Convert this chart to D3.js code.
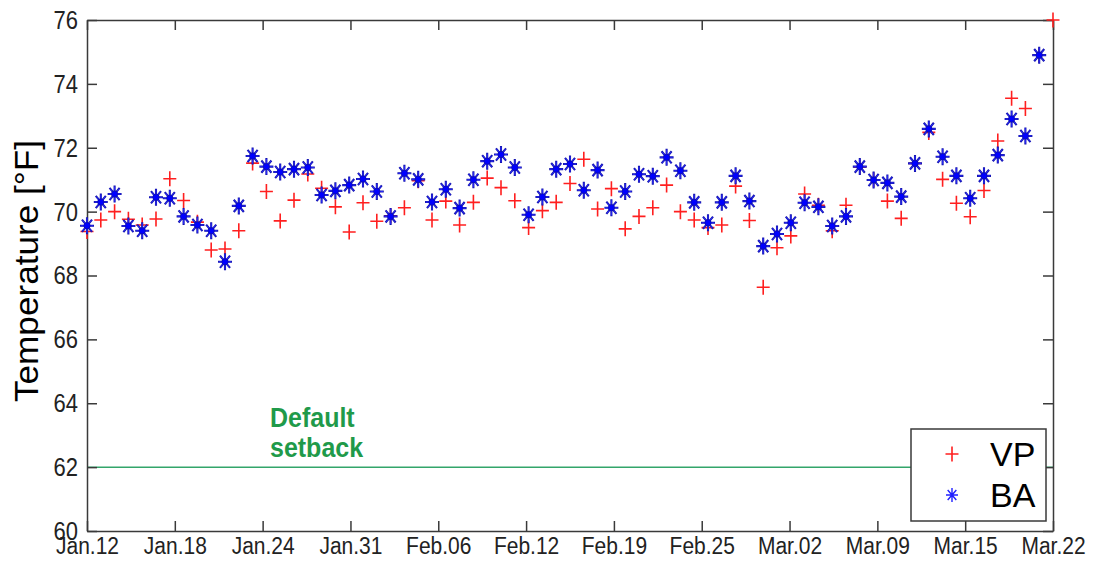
<!DOCTYPE html>
<html>
<head>
<meta charset="utf-8">
<script src="https://cdn.jsdelivr.net/npm/d3@7"></script>
<style>
  html, body { margin: 0; padding: 0; background: #fff; }
  svg { display: block; }
  text { font-family: "Liberation Sans", Arial, sans-serif; }
</style>
</head>
<body>
<svg id="chart" width="1097" height="561"></svg>
<script>
// ---------- data ----------
const startDate = "2012-01-12";   // day index 0
const nDays = 70;                 // Jan.12 .. Mar.22 (leap year)
const vpValues = [
  69.38, 69.74, 70.00, 69.76, 69.58, 69.77, 71.03, 70.35, 69.67, 68.80,
  68.83, 69.40, 71.52, 70.63, 69.71, 70.36, 71.18, 70.73, 70.15, 69.36,
  70.28, 69.70, 69.87, 70.12, 70.97, 69.74, 70.33, 69.58, 70.29, 71.05,
  70.75, 70.34, 69.50, 70.03, 70.29, 70.88, 71.64, 70.08, 70.72, 69.46,
  69.85, 70.12, 70.83, 70.00, 69.74, 69.50, 69.58, 70.80, 69.72, 67.63,
  68.87, 69.24, 70.55, 70.20, 69.40, 70.20, 71.40, 71.00, 70.33, 69.79,
  71.51, 72.48, 71.01, 70.26, 69.84, 70.66, 72.21, 73.55, 73.23, 74.90,
  76.00
];
const baValues = [
  69.56, 70.30, 70.55, 69.55, 69.40, 70.45, 70.42, 69.85, 69.58, 69.40,
  68.43, 70.18, 71.74, 71.41, 71.24, 71.33, 71.38, 70.52, 70.65, 70.83,
  71.02, 70.63, 69.85, 71.20, 71.01, 70.30, 70.70, 70.11, 71.00, 71.58,
  71.79, 71.38, 69.90, 70.46, 71.33, 71.49, 70.67, 71.30, 70.12, 70.63,
  71.17, 71.11, 71.70, 71.28, 70.29, 69.65, 70.29, 71.12, 70.33, 68.92,
  69.30, 69.65, 70.28, 70.15, 69.55, 69.85, 71.41, 70.99, 70.90, 70.47,
  71.51, 72.59, 71.72, 71.12, 70.42, 71.12, 71.77, 72.90, 72.37, 74.90,
  null
];
const seriesNames = ["VP", "BA"];
const xTickLabels = ["Jan.12","Jan.18","Jan.24","Jan.31","Feb.06","Feb.12",
                     "Feb.19","Feb.25","Mar.02","Mar.09","Mar.15","Mar.22"];
const yTicks = [60, 62, 64, 66, 68, 70, 72, 74, 76];
const setbackValue = 62;
const setbackLabel = ["Default", "setback"];
const yTitle = "Temperature [°F]";

// ---------- layout ----------
const svg = d3.select("#chart");
const L = 87, R = 1053, T = 20, B = 531;
const x = d3.scaleLinear().domain([0, nDays]).range([L, R]);
const y = d3.scaleLinear().domain([60, 76]).range([B, T]);
const axisColor = "#3a3a3a";
const tickPositions = xTickLabels.map((d, i) => i * nDays / (xTickLabels.length - 1));

// setback line
svg.append("line")
  .attr("x1", x(0)).attr("x2", x(nDays))
  .attr("y1", y(setbackValue)).attr("y2", y(setbackValue))
  .attr("stroke", "#33a56a").attr("stroke-width", 1.5);

svg.append("g").selectAll("text").data(setbackLabel).join("text")
  .attr("transform", (d, i) => `translate(270,${y(setbackValue) - 40 + i * 30}) scale(1,1.12)`)
  .attr("fill", "#1f9a4a").attr("font-weight", "bold").attr("font-size", 25)
  .text(d => d);

// axes (bottom + top, left + right)
const xb = d3.axisBottom(x).tickValues(tickPositions)
  .tickFormat((d, i) => xTickLabels[i]).tickSizeInner(-10).tickSizeOuter(0).tickPadding(6);
const xt = d3.axisTop(x).tickValues(tickPositions).tickFormat("").tickSizeInner(-10).tickSizeOuter(0);
const yl = d3.axisLeft(y).tickValues(yTicks).tickFormat(d3.format("d"))
  .tickSizeInner(-10).tickSizeOuter(0).tickPadding(9);
const yr = d3.axisRight(y).tickValues(yTicks).tickFormat("").tickSizeInner(-10).tickSizeOuter(0);

function styleAxis(fontSize, vs) {
  return function (g) {
    g.select(".domain").attr("stroke", axisColor).attr("stroke-width", 1.5);
    g.selectAll(".tick line").attr("stroke", axisColor).attr("stroke-width", 1.5);
    g.selectAll(".tick text").attr("fill", "#222").attr("font-size", fontSize)
      .attr("font-family", "Liberation Sans, Arial, sans-serif")
      .each(function () {
        const t = d3.select(this);
        const tx = +t.attr("x") || 0, ty = +t.attr("y") || 0;
        t.attr("x", 0).attr("y", 0)
          .attr("transform", `translate(${tx},${ty}) scale(1,${vs})`);
      });
  };
}
svg.append("g").attr("transform", `translate(0,${B})`).call(xb).call(styleAxis(21, 1.15));
svg.append("g").attr("transform", `translate(0,${T})`).call(xt).call(styleAxis(21, 1.15));
svg.append("g").attr("transform", `translate(${L},0)`).call(yl).call(styleAxis(22, 1.2));
svg.append("g").attr("transform", `translate(${R},0)`).call(yr).call(styleAxis(22, 1.2));

// y title
svg.append("text")
  .attr("transform", `translate(38,271) rotate(-90)`)
  .attr("text-anchor", "middle").attr("font-size", 33).attr("fill", "#000")
  .attr("textLength", 262).attr("lengthAdjust", "spacingAndGlyphs")
  .text(yTitle);

// markers
function plusPath(sx, sy) { return `M${-sx},0H${sx}M0,${-sy}V${sy}`; }
function starPath(sx, sy) {
  const dx = sx * 0.72, dy = sy * 0.72;
  return `M${-sx},0H${sx}M0,${-sy}V${sy}M${-dx},${-dy}L${dx},${dy}M${-dx},${dy}L${dx},${-dy}`;
}
function drawVP(g, cx, cy) {
  g.append("path").attr("transform", `translate(${cx},${cy})`)
    .attr("d", plusPath(6.5, 7.5)).attr("stroke", "#ff1f1f").attr("stroke-width", 1.6).attr("fill", "none");
}
function drawBA(g, cx, cy) {
  const m = g.append("g").attr("transform", `translate(${cx},${cy})`);
  m.append("path").attr("d", starPath(7, 8.5)).attr("stroke", "#1515b0").attr("stroke-width", 2.1).attr("fill", "none");
  m.append("path").attr("d", starPath(6.2, 7.6)).attr("stroke", "#2a2aff").attr("stroke-width", 0.9).attr("fill", "none");
  m.append("circle").attr("r", 3.2).attr("fill", "#0000ff").attr("stroke", "#101090").attr("stroke-width", 0.6);
}

const gVP = svg.append("g");
vpValues.forEach((v, i) => { if (v != null) drawVP(gVP, x(i), y(v)); });
const gBA = svg.append("g");
baValues.forEach((v, i) => { if (v != null) drawBA(gBA, x(i), y(v)); });

// legend
const lg = svg.append("g");
lg.append("rect").attr("x", 911).attr("y", 429).attr("width", 135).attr("height", 92)
  .attr("fill", "#fff").attr("stroke", axisColor).attr("stroke-width", 1.5);
drawVP(lg, 952, 454);
const bLeg = lg.append("g");
bLeg.append("path").attr("transform", "translate(952,495)")
  .attr("d", starPath(6, 7)).attr("stroke", "#2020ff").attr("stroke-width", 1.4).attr("fill", "none");
lg.selectAll("text").data(seriesNames).join("text")
  .attr("x", 990).attr("y", (d, i) => 454 + i * 41)
  .attr("dy", "0.36em").attr("font-size", 34).attr("fill", "#000")
  .text(d => d);
</script>
</body>
</html>
